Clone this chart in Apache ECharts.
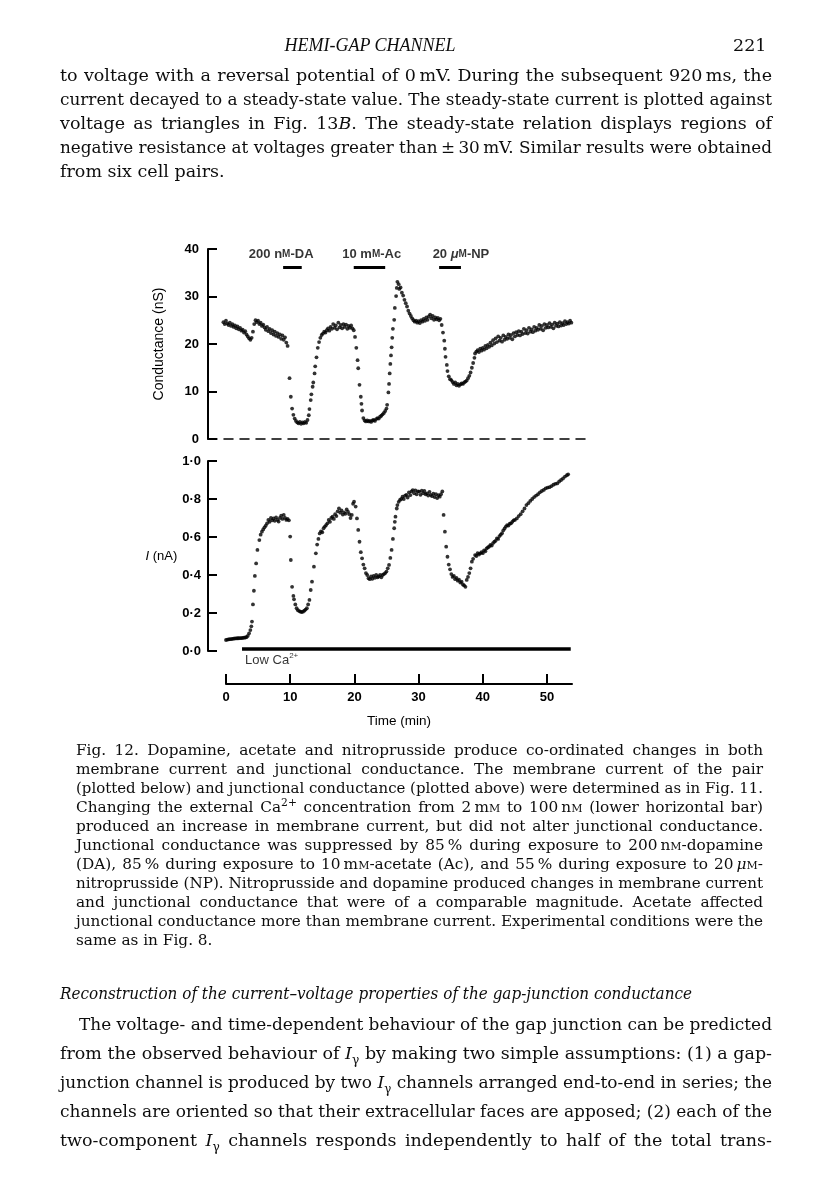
<!DOCTYPE html>
<html>
<head>
<meta charset="utf-8">
<script src="https://cdn.jsdelivr.net/npm/echarts@6/dist/echarts.min.js"></script>
<style>
  html, body { margin: 0; padding: 0; background: #fff; }
  #page { position: relative; width: 816px; height: 1203px; overflow: hidden; }
  #chart { position: absolute; left: 0; top: 0; width: 816px; height: 1203px; }
  .ln { position: absolute; white-space: nowrap; color: #0d0d0d; font-family: 'DejaVu Serif', serif; }
  .ln > span { display: inline-block; white-space: nowrap; transform-origin: left center; }
  .body { font-size: 17.5px; height: 24px; line-height: 24px; }
  .cap { font-size: 15.3px; height: 19px; line-height: 19px; }
  .head { font-family: 'Liberation Serif', serif; font-style: italic; font-size: 18px; text-align: center; }
  .sc { font-variant: small-caps; }
  sup, sub { font-size: 70%; line-height: 0; }
</style>
</head>
<body>
<div id="page">
  <div id="chart"></div>

  <div class="ln body head" style="left:270px;top:33px;width:200px"><span>HEMI-GAP CHANNEL</span></div>
  <div class="ln body" style="left:733px;top:33px"><span>221</span></div>

  <div class="ln body j" data-w="712" style="left:60px;top:63px"><span>to voltage with a reversal potential of 0&thinsp;mV. During the subsequent 920&thinsp;ms, the</span></div>
  <div class="ln body j" data-w="712" style="left:60px;top:87px"><span>current decayed to a steady-state value. The steady-state current is plotted against</span></div>
  <div class="ln body j" data-w="712" style="left:60px;top:111px"><span>voltage as triangles in Fig. 13<i>B</i>. The steady-state relation displays regions of</span></div>
  <div class="ln body j" data-w="712" style="left:60px;top:135px"><span>negative resistance at voltages greater than&thinsp;±&thinsp;30&thinsp;mV. Similar results were obtained</span></div>
  <div class="ln body" data-w="712" style="left:60px;top:159px"><span>from six cell pairs.</span></div>

  <div class="ln cap j" data-w="687" style="left:76px;top:741px"><span>Fig. 12. Dopamine, acetate and nitroprusside produce co-ordinated changes in both</span></div>
  <div class="ln cap j" data-w="687" style="left:76px;top:760px"><span>membrane current and junctional conductance. The membrane current of the pair</span></div>
  <div class="ln cap j" data-w="687" style="left:76px;top:779px"><span>(plotted below) and junctional conductance (plotted above) were determined as in Fig. 11.</span></div>
  <div class="ln cap j" data-w="687" style="left:76px;top:798px"><span>Changing the external Ca<sup>2+</sup> concentration from 2&thinsp;m<span class="sc">m</span> to 100&thinsp;n<span class="sc">m</span> (lower horizontal bar)</span></div>
  <div class="ln cap j" data-w="687" style="left:76px;top:817px"><span>produced an increase in membrane current, but did not alter junctional conductance.</span></div>
  <div class="ln cap j" data-w="687" style="left:76px;top:836px"><span>Junctional conductance was suppressed by 85&thinsp;% during exposure to 200&thinsp;n<span class="sc">m</span>-dopamine</span></div>
  <div class="ln cap j" data-w="687" style="left:76px;top:855px"><span>(DA), 85&thinsp;% during exposure to 10&thinsp;m<span class="sc">m</span>-acetate (Ac), and 55&thinsp;% during exposure to 20&thinsp;<i>μ</i><span class="sc">m</span>-</span></div>
  <div class="ln cap j" data-w="687" style="left:76px;top:874px"><span>nitroprusside (NP). Nitroprusside and dopamine produced changes in membrane current</span></div>
  <div class="ln cap j" data-w="687" style="left:76px;top:893px"><span>and junctional conductance that were of a comparable magnitude. Acetate affected</span></div>
  <div class="ln cap j" data-w="687" style="left:76px;top:912px"><span>junctional conductance more than membrane current. Experimental conditions were the</span></div>
  <div class="ln cap" data-w="687" style="left:76px;top:931px"><span>same as in Fig. 8.</span></div>

  <div class="ln body" data-w="632" style="left:60px;top:981px;font-style:italic"><span>Reconstruction of the current–voltage properties of the gap-junction conductance</span></div>

  <div class="ln body j" data-w="693" style="left:79px;top:1012px"><span>The voltage- and time-dependent behaviour of the gap junction can be predicted</span></div>
  <div class="ln body j" data-w="712" style="left:60px;top:1041px"><span>from the observed behaviour of <i>I</i><sub>γ</sub> by making two simple assumptions: (1) a gap-</span></div>
  <div class="ln body j" data-w="712" style="left:60px;top:1070px"><span>junction channel is produced by two <i>I</i><sub>γ</sub> channels arranged end-to-end in series; the</span></div>
  <div class="ln body j" data-w="712" style="left:60px;top:1099px"><span>channels are oriented so that their extracellular faces are apposed; (2) each of the</span></div>
  <div class="ln body j" data-w="712" style="left:60px;top:1128px"><span>two-component <i>I</i><sub>γ</sub> channels responds independently to half of the total trans-</span></div>
</div>

<script>
// junctional conductance (nS) against time (min)
const conductance = [
  [-0.4,24.6],[-0.2,24.2],[0,24.9],[0.2,24.3],[0.4,24.0],[0.6,24.5],[0.8,23.8],[1.0,24.2],[1.2,23.6],[1.4,23.9],
  [1.6,23.3],[1.8,23.7],[2.0,23.1],[2.2,23.4],[2.4,22.8],[2.6,23.0],[2.8,22.4],[3.0,22.7],[3.2,22.0],[3.4,21.6],
  [3.6,21.2],[3.8,20.9],[4.0,21.3],[4.2,22.6],[4.4,24.2],[4.6,25.0],[4.8,24.6],[5.0,24.9],[5.2,24.2],[5.4,24.5],
  [5.6,23.8],[5.8,24.1],[6.0,23.5],[6.2,23.0],[6.4,23.6],[6.6,22.7],[6.8,23.2],[7.0,22.3],[7.2,22.9],[7.4,22.0],
  [7.6,22.6],[7.8,21.7],[8.0,22.3],[8.2,21.5],[8.4,22.0],[8.6,21.1],[8.8,21.8],[9.0,20.9],[9.2,21.4],[9.4,20.3],
  [9.6,19.6],[9.9,12.8],[10.1,8.9],[10.3,6.4],[10.5,5.1],[10.7,4.3],[10.9,3.8],[11.1,3.5],[11.3,3.3],[11.5,3.6],
  [11.7,3.2],[11.9,3.5],[12.1,3.3],[12.3,3.6],[12.5,3.4],[12.7,4.0],[12.9,5.0],[13.0,6.3],[13.2,8.2],[13.3,9.4],
  [13.5,11.0],[13.6,11.9],[13.8,13.8],[13.9,15.3],[14.1,17.2],[14.3,19.2],[14.5,20.4],[14.7,21.3],[14.9,21.9],[15.1,22.2],
  [15.3,22.6],[15.5,22.4],[15.7,22.9],[15.9,23.3],[16.1,22.8],[16.3,23.6],[16.5,23.2],[16.7,24.2],[16.9,23.4],[17.1,23.9],
  [17.3,23.1],[17.5,24.5],[17.7,23.5],[17.9,24.0],[18.1,23.3],[18.3,24.2],[18.5,23.6],[18.7,24.1],[18.9,23.2],[19.1,23.8],
  [19.3,23.4],[19.5,23.9],[19.7,23.3],[19.9,22.9],[20.1,21.5],[20.3,19.2],[20.5,16.6],[20.6,14.9],[20.8,11.4],[21.0,8.9],
  [21.1,7.4],[21.2,6.0],[21.4,4.4],[21.6,3.9],[21.8,3.7],[22.0,3.9],[22.2,3.7],[22.4,3.8],[22.6,3.6],[22.8,3.9],
  [23.0,4.0],[23.2,3.8],[23.4,4.2],[23.6,4.4],[23.8,4.3],[24.0,4.7],[24.2,4.9],[24.4,5.2],[24.6,5.5],[24.8,5.9],
  [25.0,6.4],[25.1,7.2],[25.3,9.8],[25.4,11.6],[25.5,13.8],[25.6,15.8],[25.7,17.6],[25.8,19.3],[25.9,21.3],[26.0,23.2],
  [26.2,25.1],[26.3,27.6],[26.5,30.1],[26.6,31.8],[26.7,33.1],[26.9,32.6],[27.0,31.6],[27.2,31.9],[27.4,30.8],[27.6,30.2],
  [27.8,29.3],[28.0,28.6],[28.2,27.9],[28.4,27.0],[28.6,26.4],[28.8,25.9],[29.0,25.4],[29.2,25.0],[29.4,24.7],[29.6,24.9],
  [29.8,24.5],[30.0,24.8],[30.2,24.4],[30.4,25.0],[30.6,24.7],[30.8,25.3],[31.0,24.9],[31.2,25.6],[31.4,25.1],[31.6,25.8],
  [31.8,26.2],[32.0,25.4],[32.2,25.9],[32.4,25.1],[32.6,25.6],[32.8,25.2],[33.0,25.5],[33.2,25.0],[33.4,25.3],[33.6,24.0],
  [33.8,22.4],[34.0,20.7],[34.1,19.0],[34.2,17.3],[34.4,15.6],[34.5,14.3],[34.7,13.2],[34.9,12.6],[35.1,12.4],[35.3,12.0],
  [35.5,11.6],[35.7,11.9],[35.9,11.3],[36.1,11.6],[36.3,11.2],[36.5,11.5],[36.7,11.7],[36.9,11.6],[37.1,11.9],[37.3,12.1],
  [37.5,12.3],[37.7,12.8],[37.9,13.3],[38.1,14.0],[38.3,15.0],[38.5,16.0],[38.7,17.1],[38.8,18.0],[39.0,18.4],[39.2,18.7],
  [39.4,18.3],[39.6,19.0],[39.8,18.6],[40.0,19.2],[40.2,18.8],[40.4,19.6],[40.6,19.1],[40.8,19.8],[41.0,19.4],[41.2,20.3],
  [41.4,19.7],[41.6,20.8],[41.8,20.1],[42.0,21.2],[42.2,20.4],[42.4,21.6],[42.6,20.7],[42.8,21.3],[43.0,20.5],[43.2,21.8],
  [43.4,20.9],[43.6,21.5],[43.8,21.1],[44.0,22.0],[44.2,21.3],[44.4,21.9],[44.6,21.0],[44.8,22.3],[45.0,21.6],[45.2,22.5],
  [45.4,21.9],[45.6,22.7],[45.8,21.8],[46.0,22.6],[46.2,22.1],[46.4,23.2],[46.6,22.3],[46.8,22.9],[47.0,22.2],[47.2,23.4],
  [47.4,22.6],[47.6,23.1],[47.8,22.5],[48.0,23.6],[48.2,22.8],[48.4,23.4],[48.6,23.0],[48.8,24.0],[49.0,23.2],[49.2,23.8],
  [49.4,22.9],[49.6,24.2],[49.8,23.4],[50.0,24.0],[50.2,23.5],[50.4,24.4],[50.6,23.6],[50.8,24.1],[51.0,23.3],[51.2,24.5],
  [51.4,23.8],[51.6,24.3],[51.8,23.7],[52.0,24.6],[52.2,23.9],[52.4,24.4],[52.6,24.0],[52.8,24.8],[53.0,24.2],[53.2,24.6],
  [53.4,24.3],[53.6,24.9],[53.8,24.5]
]

// membrane current (nA) against time (min)
const current = [
  [0,0.058],[0.2,0.060],[0.4,0.061],[0.6,0.062],[0.8,0.063],[1.0,0.064],[1.2,0.065],[1.4,0.066],[1.6,0.066],[1.8,0.067],
  [2.0,0.067],[2.2,0.068],[2.4,0.068],[2.6,0.069],[2.8,0.070],[3.0,0.071],[3.2,0.073],[3.4,0.080],[3.6,0.093],[3.8,0.110],
  [3.95,0.130],[4.05,0.155],[4.2,0.245],[4.35,0.317],[4.5,0.395],[4.7,0.461],[4.9,0.532],[5.2,0.584],[5.4,0.612],[5.6,0.628],
  [5.8,0.640],[6.0,0.651],[6.2,0.660],[6.4,0.672],[6.6,0.690],[6.8,0.680],[7.0,0.700],[7.2,0.688],[7.4,0.698],[7.6,0.685],
  [7.8,0.703],[8.0,0.690],[8.2,0.681],[8.4,0.700],[8.6,0.712],[8.8,0.695],[9.0,0.716],[9.2,0.700],[9.4,0.690],[9.6,0.695],
  [9.8,0.688],[10.0,0.602],[10.1,0.479],[10.3,0.338],[10.5,0.290],[10.6,0.272],[10.8,0.245],[11.0,0.225],[11.2,0.215],[11.4,0.210],
  [11.6,0.207],[11.8,0.205],[12.0,0.207],[12.2,0.212],[12.4,0.218],[12.6,0.225],[12.8,0.245],[13.0,0.269],[13.2,0.321],[13.4,0.365],
  [13.7,0.444],[14.0,0.514],[14.2,0.560],[14.4,0.590],[14.6,0.619],[14.8,0.630],[15.0,0.625],[15.2,0.646],[15.4,0.655],[15.6,0.663],
  [15.8,0.672],[16.0,0.690],[16.2,0.680],[16.4,0.700],[16.6,0.707],[16.8,0.695],[17.0,0.720],[17.2,0.710],[17.4,0.735],[17.6,0.751],
  [17.8,0.728],[18.0,0.740],[18.2,0.718],[18.4,0.730],[18.6,0.722],[18.8,0.745],[19.0,0.733],[19.2,0.720],[19.4,0.700],[19.6,0.716],
  [19.8,0.775],[19.95,0.786],[20.2,0.760],[20.4,0.698],[20.6,0.637],[20.8,0.575],[21.0,0.520],[21.2,0.488],[21.4,0.455],[21.6,0.435],
  [21.8,0.410],[22.0,0.400],[22.2,0.383],[22.4,0.378],[22.6,0.392],[22.8,0.380],[23.0,0.395],[23.2,0.385],[23.4,0.400],[23.6,0.388],
  [23.8,0.392],[24.0,0.400],[24.2,0.388],[24.4,0.400],[24.6,0.405],[24.8,0.410],[25.0,0.418],[25.2,0.435],[25.4,0.453],[25.6,0.490],
  [25.8,0.532],[26.0,0.590],[26.2,0.646],[26.3,0.680],[26.4,0.707],[26.6,0.750],[26.7,0.768],[26.9,0.785],[27.1,0.795],[27.3,0.800],
  [27.5,0.812],[27.7,0.800],[27.9,0.818],[28.1,0.822],[28.3,0.808],[28.5,0.835],[28.7,0.820],[28.9,0.840],[29.1,0.847],[29.3,0.830],
  [29.5,0.845],[29.7,0.825],[29.9,0.840],[30.1,0.839],[30.3,0.822],[30.5,0.844],[30.7,0.830],[30.9,0.842],[31.1,0.825],[31.3,0.830],
  [31.5,0.818],[31.7,0.838],[31.9,0.822],[32.1,0.815],[32.3,0.828],[32.5,0.810],[32.7,0.825],[32.9,0.805],[33.1,0.820],[33.3,0.812],
  [33.5,0.825],[33.7,0.840],[33.9,0.716],[34.1,0.628],[34.3,0.549],[34.5,0.496],[34.7,0.455],[34.9,0.430],[35.1,0.405],[35.3,0.390],
  [35.5,0.395],[35.7,0.378],[35.9,0.385],[36.1,0.370],[36.3,0.375],[36.5,0.360],[36.7,0.365],[36.9,0.350],[37.1,0.345],[37.3,0.338],
  [37.5,0.374],[37.7,0.390],[37.9,0.410],[38.1,0.435],[38.3,0.470],[38.5,0.485],[38.8,0.505],[39.0,0.500],[39.2,0.515],[39.4,0.508],
  [39.6,0.514],[39.8,0.520],[40.0,0.515],[40.2,0.530],[40.4,0.525],[40.6,0.540],[40.8,0.545],[41.0,0.550],[41.2,0.558],[41.4,0.555],
  [41.6,0.568],[41.8,0.575],[42.0,0.580],[42.2,0.593],[42.4,0.590],[42.6,0.605],[42.8,0.612],[43.0,0.620],[43.2,0.635],[43.4,0.645],
  [43.6,0.655],[43.8,0.663],[44.0,0.660],[44.2,0.670],[44.4,0.672],[44.6,0.680],[44.8,0.688],[45.0,0.690],[45.3,0.698],[45.6,0.710],
  [45.9,0.720],[46.2,0.735],[46.5,0.750],[46.8,0.768],[47.1,0.778],[47.4,0.790],[47.7,0.800],[48.0,0.810],[48.3,0.818],[48.6,0.825],
  [48.9,0.835],[49.2,0.842],[49.5,0.848],[49.8,0.856],[50.1,0.860],[50.4,0.862],[50.7,0.868],[51.0,0.875],[51.3,0.880],[51.6,0.882],
  [51.9,0.892],[52.2,0.900],[52.5,0.908],[52.8,0.918],[53.1,0.925],[53.3,0.930]
]

// drug application bars (min) and their labels
const drugLabels = ['200 n{sc|M}-DA', '10 m{sc|M}-Ac', '20 {mu|μ}{sc|M}-NP']
const drugStart = [8.9, 19.9, 33.2]
const drugEnd = [11.8, 24.8, 36.6]
const drugLabelTime = [8.6, 22.7, 36.6]
const drugBarLevel = 36.2
const drugLabelLevel = 38.9

// low Ca2+ period (min)
const lowCaStart = 2.5
const lowCaEnd = 53.7

const condTicks = [0, 10, 20, 30, 40]
const currentTicks = [0, 0.2, 0.4, 0.6, 0.8, 1.0]
const timeTicks = [0, 10, 20, 30, 40, 50]

const ink = '#000'
const sans = 'Liberation Sans, Arial, sans-serif'
const tickFont = { color: ink, fontFamily: sans, fontSize: 13, fontWeight: 'bold' }

const chart = echarts.init(document.getElementById('chart'))

const option = {
  animation: false,
  grid: [
    { left: 208, top: 249, width: 377.5, height: 190 },
    { left: 208, top: 461, width: 377.5, height: 190 },
    { left: 226, top: 600, width: 346, height: 84 }
  ],
  xAxis: [
    {
      gridIndex: 0, type: 'value', min: -2.8, max: 56,
      axisLine: { onZero: false, lineStyle: { color: ink, width: 1.5, type: [9, 7] } },
      axisTick: { show: false }, axisLabel: { show: false }, splitLine: { show: false }
    },
    {
      gridIndex: 1, type: 'value', min: -2.8, max: 56,
      axisLine: { show: false }, axisTick: { show: false }, axisLabel: { show: false }, splitLine: { show: false }
    },
    {
      gridIndex: 2, type: 'value', min: 0, max: 53.9,
      axisLine: { onZero: false, lineStyle: { color: ink, width: 2 } },
      axisTick: { inside: true, length: 10, customValues: timeTicks, lineStyle: { color: ink, width: 2 } },
      axisLabel: { customValues: timeTicks, margin: 7, ...tickFont },
      splitLine: { show: false },
      name: 'Time (min)', nameLocation: 'middle', nameGap: 30,
      nameTextStyle: { color: ink, fontFamily: sans, fontSize: 13.5 }
    }
  ],
  yAxis: [
    {
      gridIndex: 0, type: 'value', min: 0, max: 40, interval: 10,
      axisLine: { show: true, onZero: false, lineStyle: { color: ink, width: 2 } },
      axisTick: { show: true, inside: true, length: 9, customValues: condTicks, lineStyle: { color: ink, width: 2 } },
      axisLabel: { margin: 9, customValues: condTicks, ...tickFont },
      splitLine: { show: false },
      name: 'Conductance (nS)', nameLocation: 'middle', nameRotate: 90, nameGap: 42,
      nameTextStyle: { color: ink, fontFamily: sans, fontSize: 14 }
    },
    {
      gridIndex: 1, type: 'value', min: 0, max: 1, interval: 0.2,
      axisLine: { show: true, onZero: false, lineStyle: { color: ink, width: 2 } },
      axisTick: { show: true, inside: true, length: 9, customValues: currentTicks, lineStyle: { color: ink, width: 2 } },
      axisLabel: {
        margin: 7, customValues: currentTicks, ...tickFont,
        formatter: v => v.toFixed(1).replace('.', '·')
      },
      splitLine: { show: false },
      name: '{i|I} (nA)', nameLocation: 'middle', nameRotate: 0, nameGap: 28,
      nameTextStyle: {
        color: ink, fontFamily: sans, fontSize: 13,
        rich: { i: { fontStyle: 'italic', fontFamily: sans, fontSize: 13, color: ink } }
      }
    },
    { gridIndex: 2, type: 'value', min: 0, max: 1, show: false }
  ],
  series: [
    {
      name: 'Conductance', type: 'scatter', xAxisIndex: 0, yAxisIndex: 0,
      symbolSize: 3.8, itemStyle: { color: ink }, data: conductance
    },
    {
      name: 'Current', type: 'scatter', xAxisIndex: 1, yAxisIndex: 1,
      symbolSize: 3.8, itemStyle: { color: ink }, data: current
    },
    {
      name: 'Drugs', type: 'scatter', xAxisIndex: 0, yAxisIndex: 0, clip: false,
      symbolSize: 1, itemStyle: { color: 'transparent' },
      data: drugLabels.map((txt, i) => ({ value: [drugLabelTime[i], drugLabelLevel], txt })),
      label: {
        show: true, position: 'inside', formatter: p => p.data.txt,
        color: ink, fontFamily: sans, fontSize: 13, fontWeight: 'bold',
        rich: {
          sc: { fontSize: 10, fontWeight: 'bold', fontFamily: sans, color: ink },
          mu: { fontStyle: 'italic', fontSize: 13, fontWeight: 'bold', fontFamily: sans, color: ink }
        }
      },
      markLine: {
        silent: true, symbol: ['none', 'none'], label: { show: false },
        lineStyle: { color: ink, width: 3, type: 'solid' },
        data: drugStart.map((s, i) => [{ coord: [s, drugBarLevel] }, { coord: [drugEnd[i], drugBarLevel] }])
      }
    },
    {
      name: 'Low Ca', type: 'scatter', xAxisIndex: 1, yAxisIndex: 1, clip: false,
      symbolSize: 1, itemStyle: { color: 'transparent' },
      data: [{ value: [2.9, -0.047] }],
      label: {
        show: true, position: 'right', distance: 0,
        formatter: 'Low Ca{sup|2+}',
        color: ink, fontFamily: sans, fontSize: 13,
        rich: { sup: { fontSize: 8, verticalAlign: 'top', padding: [0, 0, 8, 0], fontFamily: sans, color: ink } }
      },
      markLine: {
        silent: true, symbol: ['none', 'none'], label: { show: false },
        lineStyle: { color: ink, width: 3.5, type: 'solid' },
        data: [[{ coord: [lowCaStart, 0.01] }, { coord: [lowCaEnd, 0.01] }]]
      }
    }
  ]
}

chart.setOption(option)

// fit each printed text line to its measure (justify or squeeze)
document.querySelectorAll('.ln[data-w]').forEach(el => {
  const target = parseFloat(el.dataset.w)
  const span = el.firstElementChild
  const w = span.getBoundingClientRect().width
  if (w > target) {
    span.style.transform = 'scaleX(' + (target / w) + ')'
  } else if (el.classList.contains('j')) {
    const n = (span.textContent.match(/ /g) || []).length
    if (n) span.style.wordSpacing = ((target - w) / n) + 'px'
  }
})
</script>
</body>
</html>
